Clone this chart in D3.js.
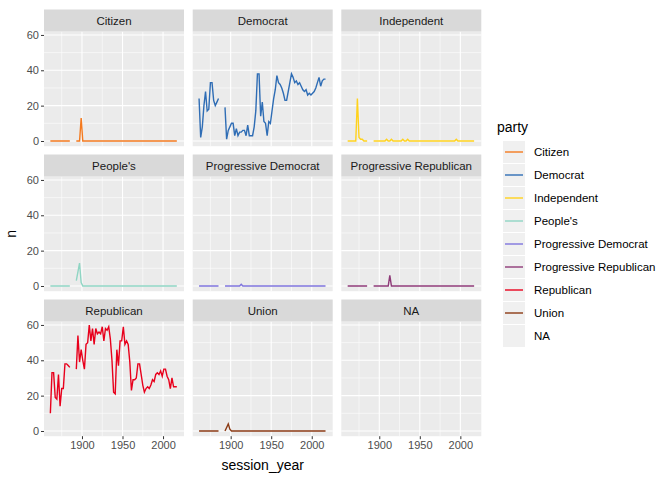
<!DOCTYPE html>
<html>
<head>
<meta charset="utf-8">
<script src="https://cdn.jsdelivr.net/npm/d3@7"></script>
<style>
  body { margin: 0; background: #fff; }
  text { font-family: "Liberation Sans", Arial, sans-serif; }
</style>
</head>
<body>
<svg id="chart" width="672" height="480"></svg>
<script>
// session years: two runs with a gap between them
var yearsEarly = [1861, 1863, 1865, 1867, 1869, 1871, 1873, 1875, 1877, 1879, 1881, 1883, 1885];
var yearsLate = [1893, 1895, 1897, 1899, 1901, 1903, 1905, 1907, 1909, 1911,
  1913, 1915, 1917, 1919, 1921, 1923, 1925, 1927, 1929, 1931,
  1933, 1935, 1937, 1939, 1941, 1943, 1945, 1947, 1949, 1951,
  1953, 1955, 1957, 1959, 1961, 1963, 1965, 1967, 1969, 1971,
  1973, 1975, 1977, 1979, 1981, 1983, 1985, 1987, 1989, 1991,
  1993, 1995, 1997, 1999, 2001, 2003, 2005, 2007, 2009, 2011,
  2013, 2015, 2017];

var parties = ["Citizen", "Democrat", "Independent", "People's", "Progressive Democrat",
  "Progressive Republican", "Republican", "Union", "NA"];
var partyColors = ["#f47a1f", "#2f6db5", "#ffd21c", "#8fd5c3", "#7f74dd",
  "#8e3a78", "#e8001c", "#8b3a14", null];

var citizenEarly = [0,0,0,0,0,0,0,0,0,0,0,0,0];
var citizenLate = [0,0,0,13,0,0,0,0,0,0, 0,0,0,0,0,0,0,0,0,0, 0,0,0,0,0,0,0,0,0,0,
  0,0,0,0,0,0,0,0,0,0, 0,0,0,0,0,0,0,0,0,0, 0,0,0,0,0,0,0,0,0,0, 0,0,0];
var democratEarly = [24,2,8,20,28,17,18,33,33,23,20,22,24];
var democratLate = [19,1,6,8,10,10,3,7,3,5, 5,6,6,3,9,3,3,3,8,17, 38,38,14,22,11,10,3,11,10,17,
  24,29,37,33,32,30,27,23,23,28, 33,38,36,33,34,32,33,31,29,28, 29,26,27,26,27,28,30,33,36,31, 34,35,35];
var independentEarly = [0,0,0,0,0,0,24,2,1,1,0,0,0];
var independentLate = [0,0,0,0,0,0,0,0,1,0, 0,1,0,0,0,0,0,0,1,0, 0,1,0,0,0,0,0,0,0,0,
  0,0,0,0,0,0,0,0,0,0, 0,0,0,0,0,0,0,0,0,0, 0,1,0,0,0,0,0,0,0,0, 0,0,0];
var peoplesEarly = [0,0,0,0,0,0,0,0,0,0,0,0,0];
var peoplesLate = [3,8,13,2,0,0,0,0,0,0, 0,0,0,0,0,0,0,0,0,0, 0,0,0,0,0,0,0,0,0,0,
  0,0,0,0,0,0,0,0,0,0, 0,0,0,0,0,0,0,0,0,0, 0,0,0,0,0,0,0,0,0,0, 0,0,0];
var progDemEarly = [0,0,0,0,0,0,0,0,0,0,0,0,0];
var progDemLate = [0,0,0,0,0,0,0,0,0,0, 1,0,0,0,0,0,0,0,0,0, 0,0,0,0,0,0,0,0,0,0,
  0,0,0,0,0,0,0,0,0,0, 0,0,0,0,0,0,0,0,0,0, 0,0,0,0,0,0,0,0,0,0, 0,0,0];
var progRepEarly = [0,0,0,0,0,0,0,0,0,0,0,0,0];
var progRepLate = [0,0,0,0,0,0,0,0,0,0, 6,0,0,0,0,0,0,0,0,0, 0,0,0,0,0,0,0,0,0,0,
  0,0,0,0,0,0,0,0,0,0, 0,0,0,0,0,0,0,0,0,0, 0,0,0,0,0,0,0,0,0,0, 0,0,0];
var republicanEarly = [10,33,33,19,18,32,14,24,24,38,38,37,36];
var republicanLate = [35,54,39,46,40,35,49,50,60,51, 58,49,58,55,56,55,59,51,58,57,
  59,52,40,22,21,46,37,51,51,59, 49,51,49,39,23,29,29,30,38,38,
  32,26,22,24,25,24,26,29,28,32, 33,32,34,31,35,35,31,29,24,30, 25,25,25];
var unionEarly = [0,0,0,0,0,0,0,0,0,0,0,0,0];
var unionLate = [0,2,4,1,0,0,0,0,0,0, 0,0,0,0,0,0,0,0,0,0, 0,0,0,0,0,0,0,0,0,0,
  0,0,0,0,0,0,0,0,0,0, 0,0,0,0,0,0,0,0,0,0, 0,0,0,0,0,0,0,0,0,0, 0,0,0];

var xTicks = [1900, 1950, 2000];
var xMinor = [1875, 1925, 1975];
var yTicks = [0, 20, 40, 60];
var yMinor = [10, 30, 50];

var seriesEarly = [citizenEarly, democratEarly, independentEarly, peoplesEarly, progDemEarly,
  progRepEarly, republicanEarly, unionEarly, null];
var seriesLate = [citizenLate, democratLate, independentLate, peoplesLate, progDemLate,
  progRepLate, republicanLate, unionLate, null];

// build point lists with a null break between the two runs
function buildPoints(i) {
  if (!seriesEarly[i]) return [];
  var pts = yearsEarly.map((y, k) => ({ year: y, n: seriesEarly[i][k] }));
  pts.push(null);
  return pts.concat(yearsLate.map((y, k) => ({ year: y, n: seriesLate[i][k] })));
}

var svg = d3.select('#chart');
var panelW = 140, panelH = 114.7, stripH = 22;
var colLeft = [44, 192.7, 341.3];
var rowTop = [31.5, 176.5, 321.5];

var x = d3.scaleLinear().domain([1853.15, 2025.85]).range([0, panelW]);
var y = d3.scaleLinear().domain([-2.95, 61.95]).range([panelH, 0]);

var line = d3.line()
  .defined(d => d !== null)
  .x(d => x(d.year))
  .y(d => y(d.n));

parties.forEach(function (party, i) {
  var col = i % 3, row = Math.floor(i / 3);
  var g = svg.append('g').attr('transform', 'translate(' + colLeft[col] + ',' + rowTop[row] + ')');

  g.append('rect').attr('width', panelW).attr('height', panelH).attr('fill', '#ebebeb');

  // grid lines
  g.selectAll('.xminor').data(xMinor).enter().append('line')
    .attr('x1', d => x(d)).attr('x2', d => x(d)).attr('y1', 0).attr('y2', panelH)
    .attr('stroke', '#fff').attr('stroke-width', 0.55);
  g.selectAll('.yminor').data(yMinor).enter().append('line')
    .attr('y1', d => y(d)).attr('y2', d => y(d)).attr('x1', 0).attr('x2', panelW)
    .attr('stroke', '#fff').attr('stroke-width', 0.55);
  g.selectAll('.xmajor').data(xTicks).enter().append('line')
    .attr('x1', d => x(d)).attr('x2', d => x(d)).attr('y1', 0).attr('y2', panelH)
    .attr('stroke', '#fff').attr('stroke-width', 1.1);
  g.selectAll('.ymajor').data(yTicks).enter().append('line')
    .attr('y1', d => y(d)).attr('y2', d => y(d)).attr('x1', 0).attr('x2', panelW)
    .attr('stroke', '#fff').attr('stroke-width', 1.1);

  // strip
  g.append('rect').attr('y', -stripH).attr('width', panelW).attr('height', stripH).attr('fill', '#d9d9d9');
  g.append('text').attr('x', panelW / 2).attr('y', -stripH / 2 + 4)
    .attr('text-anchor', 'middle').attr('font-size', 11.5).attr('fill', '#1a1a1a').text(party);

  var pts = buildPoints(i);
  if (pts.length) {
    g.append('path').datum(pts).attr('d', line)
      .attr('fill', 'none').attr('stroke', partyColors[i]).attr('stroke-width', 1.4);
  }

  if (col === 0) {
    var ya = g.append('g').call(d3.axisLeft(y).tickValues(yTicks).tickSize(3).tickPadding(2));
    ya.select('.domain').remove();
    ya.selectAll('line').attr('stroke', '#333');
    ya.selectAll('text').attr('fill', '#4d4d4d').attr('font-size', 11);
  }
  if (row === 2) {
    var xa = g.append('g').attr('transform', 'translate(0,' + panelH + ')')
      .call(d3.axisBottom(x).tickValues(xTicks).tickFormat(d3.format('d')).tickSize(3).tickPadding(2));
    xa.select('.domain').remove();
    xa.selectAll('line').attr('stroke', '#333');
    xa.selectAll('text').attr('fill', '#4d4d4d').attr('font-size', 11);
  }
});

// axis titles
svg.append('text').attr('x', colLeft[1] + panelW / 2).attr('y', 470)
  .attr('text-anchor', 'middle').attr('font-size', 14).attr('fill', '#000').text('session_year');
svg.append('text').attr('transform', 'translate(16,' + (rowTop[1] + panelH / 2) + ') rotate(-90)')
  .attr('text-anchor', 'middle').attr('font-size', 14).attr('fill', '#000').text('n');

// legend
var legend = svg.append('g').attr('transform', 'translate(497,0)');
legend.append('text').attr('x', 0).attr('y', 132).attr('font-size', 14).attr('fill', '#000').text('party');
parties.forEach(function (party, i) {
  var cy = 152 + i * 23;
  legend.append('rect').attr('x', 6).attr('y', cy - 11).attr('width', 22).attr('height', 22).attr('fill', '#f0f0f0');
  if (partyColors[i]) {
    legend.append('line').attr('x1', 8).attr('x2', 26).attr('y1', cy).attr('y2', cy)
      .attr('stroke', partyColors[i]).attr('stroke-width', 1.4);
  }
  legend.append('text').attr('x', 37).attr('y', cy + 4).attr('font-size', 11.5).attr('fill', '#000').text(party);
});
</script>
</body>
</html>
